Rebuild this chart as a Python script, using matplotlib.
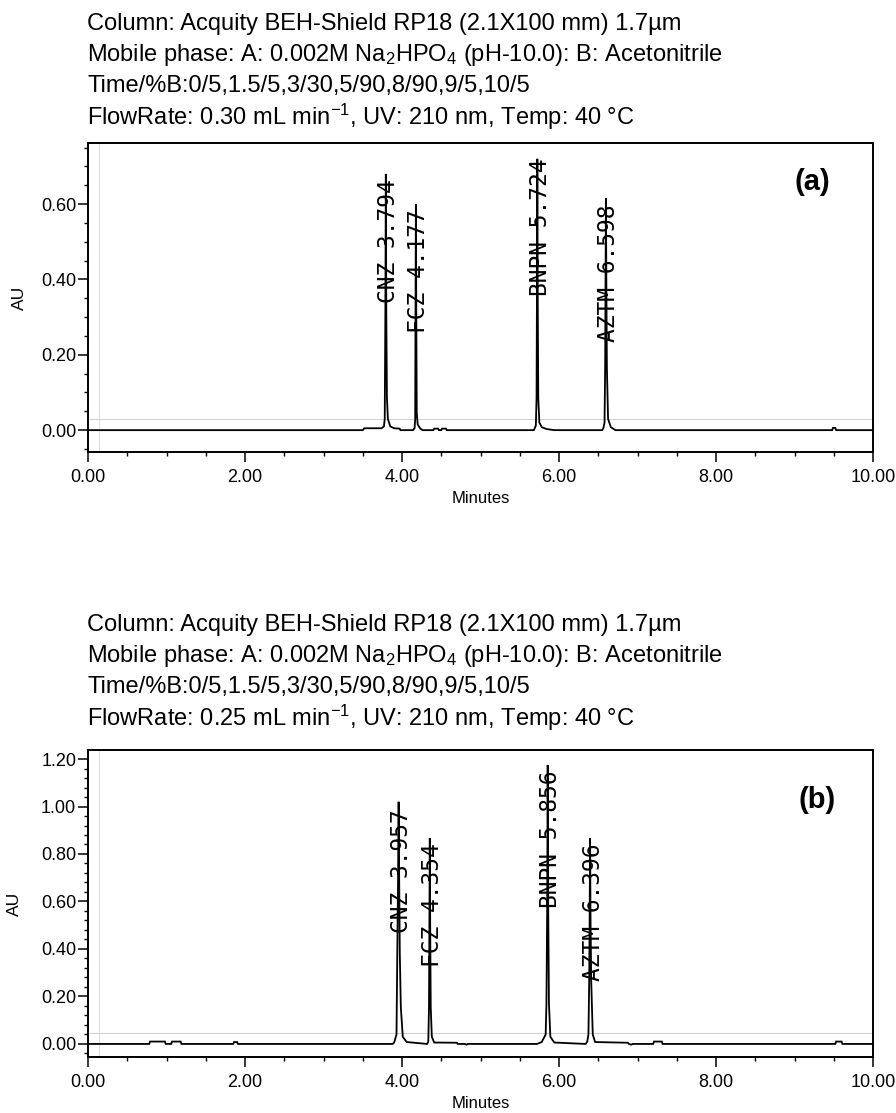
import matplotlib
matplotlib.use("Agg")
import matplotlib.pyplot as plt
from matplotlib.ticker import MultipleLocator, FormatStrFormatter
from matplotlib.transforms import offset_copy

plt.rcParams['font.family'] = ['Liberation Sans', 'DejaVu Sans']
plt.rcParams['mathtext.fontset'] = 'custom'
plt.rcParams['mathtext.rm'] = 'Liberation Sans'
plt.rcParams['mathtext.it'] = 'Liberation Sans'

# ---------------- data ----------------
# Panel (a): flow 0.30 mL/min  -- chromatogram trace
a_minutes = [0.000, 3.500, 3.520, 3.740, 3.770, 3.780, 3.788, 3.794, 3.800, 3.808, 3.820, 3.850, 3.900, 3.970, 3.980,
             4.140, 4.160, 4.168, 4.172, 4.177, 4.182, 4.188, 4.200, 4.230, 4.260,
             4.400, 4.410, 4.460, 4.470, 4.500, 4.510, 4.560, 4.570,
             5.680, 5.690, 5.705, 5.714, 5.719, 5.724, 5.729, 5.736, 5.750, 5.780, 5.840, 5.940,
             6.550, 6.565, 6.580, 6.588, 6.593, 6.598, 6.603, 6.610, 6.625, 6.660, 6.720,
             9.480, 9.490, 9.520, 9.530, 10.000]
a_au = [0.000, 0.000, 0.005, 0.005, 0.010, 0.030, 0.310, 0.680, 0.310, 0.085, 0.030, 0.010, 0.005, 0.004, 0.000,
        0.000, 0.005, 0.030, 0.300, 0.600, 0.300, 0.045, 0.015, 0.005, 0.000,
        0.000, 0.004, 0.004, 0.000, 0.000, 0.004, 0.004, 0.000,
        0.000, 0.005, 0.012, 0.085, 0.350, 0.720, 0.350, 0.085, 0.020, 0.008, 0.003, 0.000,
        0.000, 0.005, 0.020, 0.165, 0.400, 0.615, 0.400, 0.165, 0.030, 0.008, 0.000,
        0.000, 0.006, 0.006, 0.000, 0.000]

# Panel (b): flow 0.25 mL/min
b_minutes = [0.000, 0.780, 0.790, 0.980, 0.990, 1.060, 1.070, 1.180, 1.190, 1.850, 1.860, 1.900, 1.910,
             3.880, 3.900, 3.930, 3.940, 3.950, 3.957, 3.964, 3.972, 3.985, 4.010, 4.060,
             4.320, 4.335, 4.344, 4.349, 4.354, 4.359, 4.366, 4.380, 4.410, 4.700, 4.710, 4.800, 4.820, 4.840,
             5.720, 5.780, 5.830, 5.840, 5.850, 5.856, 5.862, 5.872, 5.890, 5.940,
             6.340, 6.360, 6.375, 6.385, 6.391, 6.396, 6.401, 6.410, 6.430, 6.460, 6.880, 6.890, 6.920, 6.940,
             7.200, 7.210, 7.310, 7.320, 9.520, 9.530, 9.600, 9.610, 10.000]
b_au = [0.000, 0.000, 0.010, 0.010, 0.000, 0.000, 0.010, 0.010, 0.000, 0.000, 0.008, 0.008, 0.000,
        0.000, 0.006, 0.040, 0.380, 0.700, 1.020, 0.700, 0.380, 0.155, 0.030, 0.008,
        0.000, 0.010, 0.155, 0.500, 0.867, 0.500, 0.155, 0.030, 0.006, 0.005, 0.000, 0.000, -0.003, 0.000,
        0.000, 0.008, 0.040, 0.170, 0.600, 1.175, 0.600, 0.170, 0.030, 0.006,
        0.000, 0.010, 0.040, 0.270, 0.550, 0.867, 0.550, 0.270, 0.040, 0.008, 0.005, 0.000, -0.003, 0.000,
        0.000, 0.010, 0.010, 0.000, 0.000, 0.010, 0.010, 0.000, 0.000]

peak_names = ["CNZ", "FCZ", "BNPN", "AZTM"]
a_peak_rt = [3.794, 4.177, 5.724, 6.598]
a_label_top = [0.665, 0.585, 0.720, 0.600]
b_peak_rt = [3.957, 4.354, 5.856, 6.396]
b_label_top = [0.990, 0.846, 1.150, 0.846]

x_ticks = [0, 2, 4, 6, 8, 10]
a_yticks = [0.0, 0.2, 0.4, 0.6]
b_yticks = [0.0, 0.2, 0.4, 0.6, 0.8, 1.0, 1.2]

header_common = [
    "Column: Acquity BEH-Shield RP18 (2.1X100 mm) 1.7µm",
    r"Mobile phase: A: 0.002M Na$_2$HPO$_4$ (pH-10.0): B: Acetonitrile",
    "Time/%B:0/5,1.5/5,3/30,5/90,8/90,9/5,10/5",
]
a_flow = r"FlowRate: 0.30 mL min$^{-1}$, UV: 210 nm, Temp: 40 °C"
b_flow = r"FlowRate: 0.25 mL min$^{-1}$, UV: 210 nm, Temp: 40 °C"

# ---------------- figure ----------------
W, H = 896, 1113
fig = plt.figure(figsize=(W / 100, H / 100), dpi=100)
fig.patch.set_facecolor('white')


def px(x, y):
    return x / W, 1 - y / H


def make_panel(rect_px, minutes, au, rts, tops, ylim, yticks, yminor, tag, tag_xy, header, header_y,
               flow, ylabel_x, guide_y):
    l, t, r, b = rect_px
    ax = fig.add_axes([l / W, 1 - b / H, (r - l) / W, (b - t) / H])
    assert len(minutes) == len(au)
    ax.plot(minutes, au, color='black', lw=1.3, solid_joinstyle='miter')
    ax.set_xlim(0, 10)
    ax.set_ylim(*ylim)
    # faint inner guide lines
    ax.axhline(guide_y, color='#cfcfcf', lw=0.7, zorder=0)
    ax.axvline(0.14, color='#dddddd', lw=0.7, zorder=0)
    for s in ax.spines.values():
        s.set_linewidth(1.4)
        s.set_color('black')
    ax.set_xticks(x_ticks)
    ax.xaxis.set_minor_locator(MultipleLocator(0.5))
    ax.set_yticks(yticks)
    ax.yaxis.set_minor_locator(MultipleLocator(yminor))
    ax.xaxis.set_major_formatter(FormatStrFormatter('%.2f'))
    ax.yaxis.set_major_formatter(FormatStrFormatter('%.2f'))
    ax.tick_params(axis='both', which='major', direction='out', length=7, width=1.1,
                   labelsize=13, pad=1.5)
    ax.tick_params(axis='x', which='major', pad=5)
    ax.tick_params(axis='both', which='minor', direction='out', length=3, width=1.0)
    ax.set_xlabel("Minutes", fontsize=12, labelpad=4)
    ax.set_ylabel("AU", fontsize=12.5)
    ax.yaxis.set_label_coords((ylabel_x - l) / (r - l), 0.5)
    shifted = offset_copy(ax.transData, fig=fig, x=3, y=0, units='dots')
    for name, rt, top in zip(peak_names, rts, tops):
        ax.text(rt, top, f"{name} {rt:.3f}", rotation=90, ha='center', va='top',
                fontsize=16.5, family='DejaVu Sans Mono', color='black', transform=shifted)
    fig.text(*px(*tag_xy), tag, fontsize=21, fontweight='bold', ha='center', va='center')
    lines = header + [flow]
    for txt, yy in zip(lines, header_y):
        fig.text(87 / W, 1 - yy / H, txt, fontsize=17, ha='left', va='center')
    return ax


make_panel((88, 143, 873, 452), a_minutes, a_au, a_peak_rt, a_label_top, (-0.058, 0.762),
           a_yticks, 0.05, "(a)", (812, 182), header_common, [24, 55, 86, 117], a_flow, 27, 0.03)
make_panel((88, 750, 873, 1057), b_minutes, b_au, b_peak_rt, b_label_top, (-0.055, 1.238),
           b_yticks, 0.04, "(b)", (817, 800), header_common, [625, 656, 687, 718], b_flow, 22, 0.046)

fig.savefig("out.png", dpi=100, facecolor='white')
